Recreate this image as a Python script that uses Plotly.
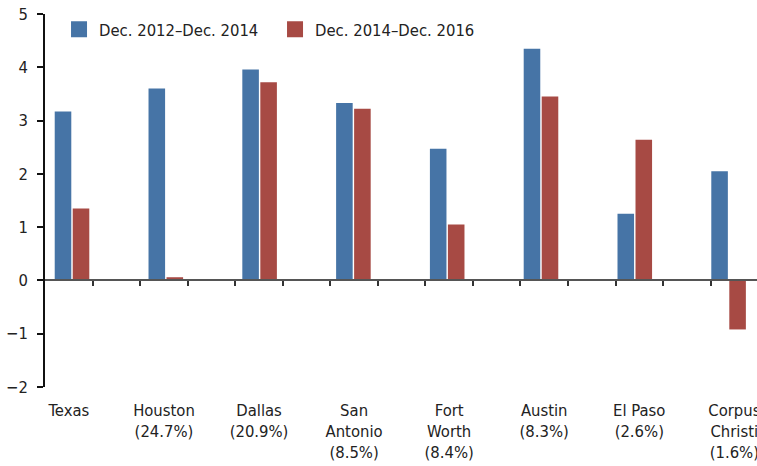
import plotly.graph_objects as go

categories = ["Texas", "Houston", "Dallas", "San Antonio", "Fort Worth", "Austin", "El Paso", "Corpus Christi"]
tick_labels = ["Texas", "Houston<br>(24.7%)", "Dallas<br>(20.9%)", "San<br>Antonio<br>(8.5%)",
               "Fort<br>Worth<br>(8.4%)", "Austin<br>(8.3%)", "El Paso<br>(2.6%)", "Corpus<br>Christi<br>(1.6%)"]
series_2012_2014 = [3.17, 3.60, 3.96, 3.33, 2.47, 4.35, 1.25, 2.05]
series_2014_2016 = [1.35, 0.06, 3.72, 3.22, 1.05, 3.45, 2.64, -0.92]
name_a = "Dec. 2012\u2013Dec. 2014"
name_b = "Dec. 2014\u2013Dec. 2016"
y_ticks = [-2, -1, 0, 1, 2, 3, 4, 5]

BLUE = "#4674a6"
RED = "#a74a44"
FONT = "DejaVu Sans Condensed, Liberation Sans, sans-serif"
FS = 16.5

fig = go.Figure()
fig.add_trace(go.Bar(x=categories, y=series_2012_2014, name=name_a, marker_color=BLUE,
                     marker_line_width=0, showlegend=False))
fig.add_trace(go.Bar(x=categories, y=series_2014_2016, name=name_b, marker_color=RED,
                     marker_line_width=0, showlegend=False))
# legend entries
fig.add_trace(go.Scatter(x=[None], y=[None], mode="markers", name=name_a,
                         marker=dict(symbol="square", size=16, color=BLUE)))
fig.add_trace(go.Scatter(x=[None], y=[None], mode="markers", name=name_b,
                         marker=dict(symbol="square", size=16, color=RED)))
# empty traces so the helper axes (zero line ticks, category labels) are drawn
fig.add_trace(go.Scatter(x=[None], y=[None], xaxis="x2", yaxis="y", showlegend=False, hoverinfo="skip"))
fig.add_trace(go.Scatter(x=[None], y=[None], xaxis="x3", yaxis="y", showlegend=False, hoverinfo="skip"))

n = len(categories)
slot_ticks = [i + 0.5 for i in range(0, 2 * n - 2)]
label_pos = [2 * i for i in range(n)]
slot_range = [-0.503, 14.477]

fig.update_layout(
    width=757, height=466,
    margin=dict(l=45, r=0, t=14, b=79, autoexpand=False),
    paper_bgcolor="white", plot_bgcolor="white",
    font=dict(family=FONT, size=FS, color="#222"),
    barmode="group", bargap=0.616, bargroupgap=0.08,
    showlegend=True,
    legend=dict(orientation="h", x=0.0197, xanchor="left", y=1.005, yanchor="top",
                font=dict(size=FS, color="#222"), entrywidth=171, entrywidthmode="pixels",
                bgcolor="rgba(0,0,0,0)", borderwidth=0),
    xaxis=dict(type="category", range=[-0.288, 7.303], showline=False, showticklabels=False,
               ticks="", showgrid=False, zeroline=False, automargin=False),
    xaxis2=dict(overlaying="x", anchor="free", position=2 / 7, range=slot_range,
                showline=True, linecolor="#555", linewidth=2,
                tickmode="array", tickvals=slot_ticks, ticks="outside", ticklen=5, tickwidth=1.5,
                tickcolor="#333", showticklabels=False, showgrid=False, zeroline=False, automargin=False),
    xaxis3=dict(overlaying="x", anchor="y", side="bottom", range=slot_range,
                showline=False, ticks="", tickmode="array", tickvals=label_pos, ticktext=tick_labels,
                ticklabelstandoff=11, ticklabeloverflow="allow", automargin=False,
                tickfont=dict(size=FS, color="#222"), showgrid=False, zeroline=False),
    yaxis=dict(range=[-2, 5], tickmode="array", tickvals=y_ticks, showline=True, linecolor="#111",
               linewidth=1.5, ticks="outside", ticklen=6, tickwidth=1.5, tickcolor="#111",
               ticklabelstandoff=6, ticklabeloverflow="allow", automargin=False,
               showgrid=False, zeroline=False, tickfont=dict(size=FS, color="#222")),
)

fig.write_html("out.html", config={"displayModeBar": False},
               post_script="document.body.style.margin='0';")
